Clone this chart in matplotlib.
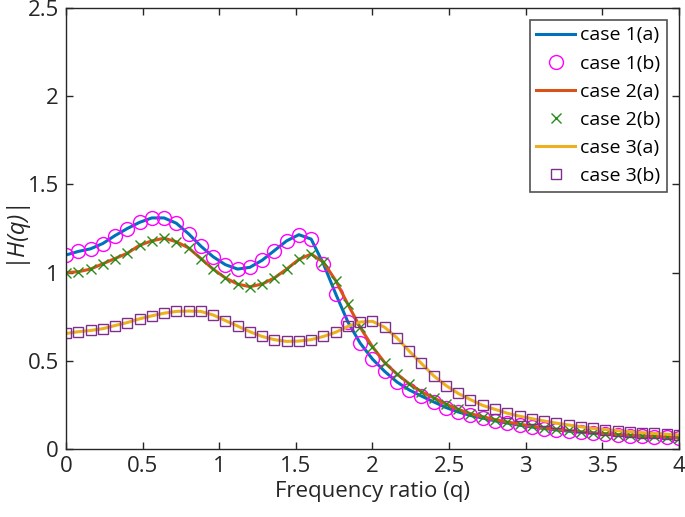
import numpy as np
import matplotlib
matplotlib.use("Agg")
import matplotlib.pyplot as plt

plt.rcParams['font.family'] = ['Open Sans', 'DejaVu Sans']

# frequency ratio points (step 0.08)
q = np.round(np.arange(51) * 0.08, 2)

case1 = [1.10, 1.12, 1.135, 1.165, 1.21, 1.25, 1.285, 1.31, 1.31, 1.28,
         1.22, 1.15, 1.09, 1.045, 1.02, 1.03, 1.07, 1.125, 1.18, 1.215,
         1.19, 1.05, 0.88, 0.72, 0.60, 0.51, 0.44, 0.38, 0.335, 0.30,
         0.267, 0.235, 0.21, 0.19, 0.175, 0.16, 0.147, 0.135, 0.125, 0.116,
         0.108, 0.101, 0.095, 0.089, 0.084, 0.079, 0.075, 0.072, 0.069, 0.066,
         0.063]

case2 = [1.00, 1.005, 1.02, 1.05, 1.08, 1.11, 1.155, 1.18, 1.195, 1.175,
         1.14, 1.08, 1.02, 0.97, 0.935, 0.92, 0.935, 0.97, 1.02, 1.075,
         1.105, 1.06, 0.955, 0.82, 0.69, 0.58, 0.49, 0.425, 0.37, 0.325,
         0.29, 0.255, 0.225, 0.20, 0.183, 0.167, 0.153, 0.141, 0.130, 0.12,
         0.112, 0.105, 0.098, 0.092, 0.087, 0.082, 0.078, 0.074, 0.071, 0.068,
         0.065]

case3 = [0.655, 0.665, 0.672, 0.682, 0.70, 0.717, 0.738, 0.755, 0.77, 0.78,
         0.782, 0.78, 0.76, 0.728, 0.697, 0.665, 0.638, 0.62, 0.61, 0.612,
         0.62, 0.638, 0.662, 0.695, 0.72, 0.724, 0.69, 0.63, 0.555, 0.485,
         0.415, 0.36, 0.315, 0.28, 0.247, 0.225, 0.203, 0.186, 0.172, 0.159,
         0.147, 0.136, 0.126, 0.117, 0.110, 0.104, 0.098, 0.093, 0.088, 0.084,
         0.08]

dark = (0.15, 0.15, 0.15)

fig = plt.figure(figsize=(6.85, 5.17), dpi=100)
ax = fig.add_axes([0.0964, 0.1315, 0.8946, 0.853])

ax.plot(q, case1, color=(0, 0.447, 0.741), lw=2.2, label='case 1(a)')
ax.plot(q, case1, 'o', color='magenta', mfc='none', ms=10, mew=1.0, label='case 1(b)')
ax.plot(q, case2, color=(0.85, 0.325, 0.098), lw=2.2, label='case 2(a)')
ax.plot(q, case2, 'x', color=(0.15, 0.55, 0.1), ms=6.5, mew=1.0, label='case 2(b)')
ax.plot(q, case3, color=(0.929, 0.694, 0.125), lw=2.2, label='case 3(a)')
ax.plot(q, case3, 's', color=(0.494, 0.184, 0.556), mfc='none', ms=7.5, mew=1.0, label='case 3(b)')

ax.set_xlim(0, 4)
ax.set_ylim(0, 2.5)
ax.set_xticks(np.arange(0, 4.01, 0.5))
ax.set_xticklabels(['0', '0.5', '1', '1.5', '2', '2.5', '3', '3.5', '4'])
ax.set_yticks(np.arange(0, 2.51, 0.5))
ax.set_yticklabels(['0', '0.5', '1', '1.5', '2', '2.5'])
ax.tick_params(direction='in', top=True, right=True, length=5, width=1,
               labelsize=16, colors=dark, pad=5)
for s in ax.spines.values():
    s.set_color(dark)
    s.set_linewidth(1)

ax.set_xlabel('Frequency ratio (q)', fontsize=16, color=dark, labelpad=3)
ax.set_ylabel('|H(q)|', fontsize=17, style='italic', color=dark, labelpad=2)

leg = ax.legend(loc='upper right', fontsize=14, frameon=True, fancybox=False,
                edgecolor=dark, handlelength=2.0, handletextpad=0.25,
                borderpad=0.35, labelspacing=0.52, borderaxespad=0.6)
leg.get_frame().set_linewidth(1.2)

fig.savefig('out.png', dpi=100)
